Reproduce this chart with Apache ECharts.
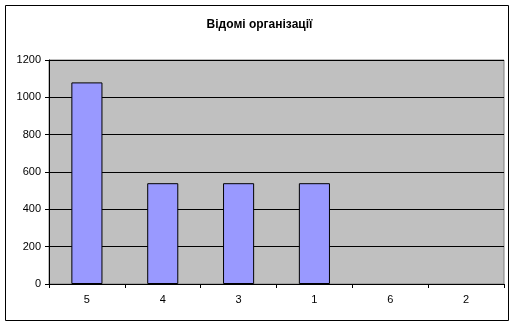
<!DOCTYPE html>
<html><head><meta charset="utf-8">
<script src="https://cdn.jsdelivr.net/npm/echarts@6/dist/echarts.min.js"></script>
<style>html,body{margin:0;padding:0;background:#fff}#c{width:519px;height:327px}</style>
</head><body><div id="c"></div>
<script>
var title = 'Відомі організації';
var categories = ['5', '4', '3', '1', '6', '2'];
var values = [1080, 540, 540, 540, 0, 0];
var yTicks = [0, 200, 400, 600, 800, 1000, 1200];

var chart = echarts.init(document.getElementById('c'), null, {renderer: 'canvas'});
chart.setOption({
  animation: false,
  backgroundColor: '#fff',
  title: {
    text: title, left: 'center', top: 14,
    textStyle: {fontFamily: 'Liberation Sans, Arial', fontSize: 12, fontWeight: 'bold', color: '#000'}
  },
  graphic: [{
    type: 'rect', shape: {x: 5.5, y: 5.5, width: 503, height: 315},
    style: {fill: 'none', stroke: '#000', lineWidth: 1}, silent: true, z: 100
  }],
  grid: {
    left: 49, right: 15, top: 60, bottom: 43, show: true,
    backgroundColor: '#c0c0c0', borderColor: '#808080', borderWidth: 1
  },
  xAxis: {
    type: 'category', data: categories,
    axisLine: {lineStyle: {color: '#000', width: 1}},
    axisTick: {show: true, length: 4, lineStyle: {color: '#000'}},
    axisLabel: {fontFamily: 'Liberation Sans, Arial', fontSize: 11, color: '#000', margin: 10}
  },
  yAxis: {
    type: 'value', min: yTicks[0], max: yTicks[yTicks.length - 1], interval: 200,
    axisLine: {show: true, lineStyle: {color: '#000', width: 1}},
    axisTick: {show: true, length: 4, lineStyle: {color: '#000'}},
    axisLabel: {fontFamily: 'Liberation Sans, Arial', fontSize: 11, color: '#000', margin: 8,
      formatter: function (v) { return String(v); }},
    splitLine: {show: true, lineStyle: {color: '#000', width: 1}}
  },
  series: [{
    type: 'bar', barWidth: '41%',
    data: values.map(function (v) {
      return v === 0 ? {value: v, itemStyle: {borderWidth: 0}} : v;
    }),
    itemStyle: {color: '#9999ff', borderColor: '#000', borderWidth: 1}
  }]
});
</script></body></html>
